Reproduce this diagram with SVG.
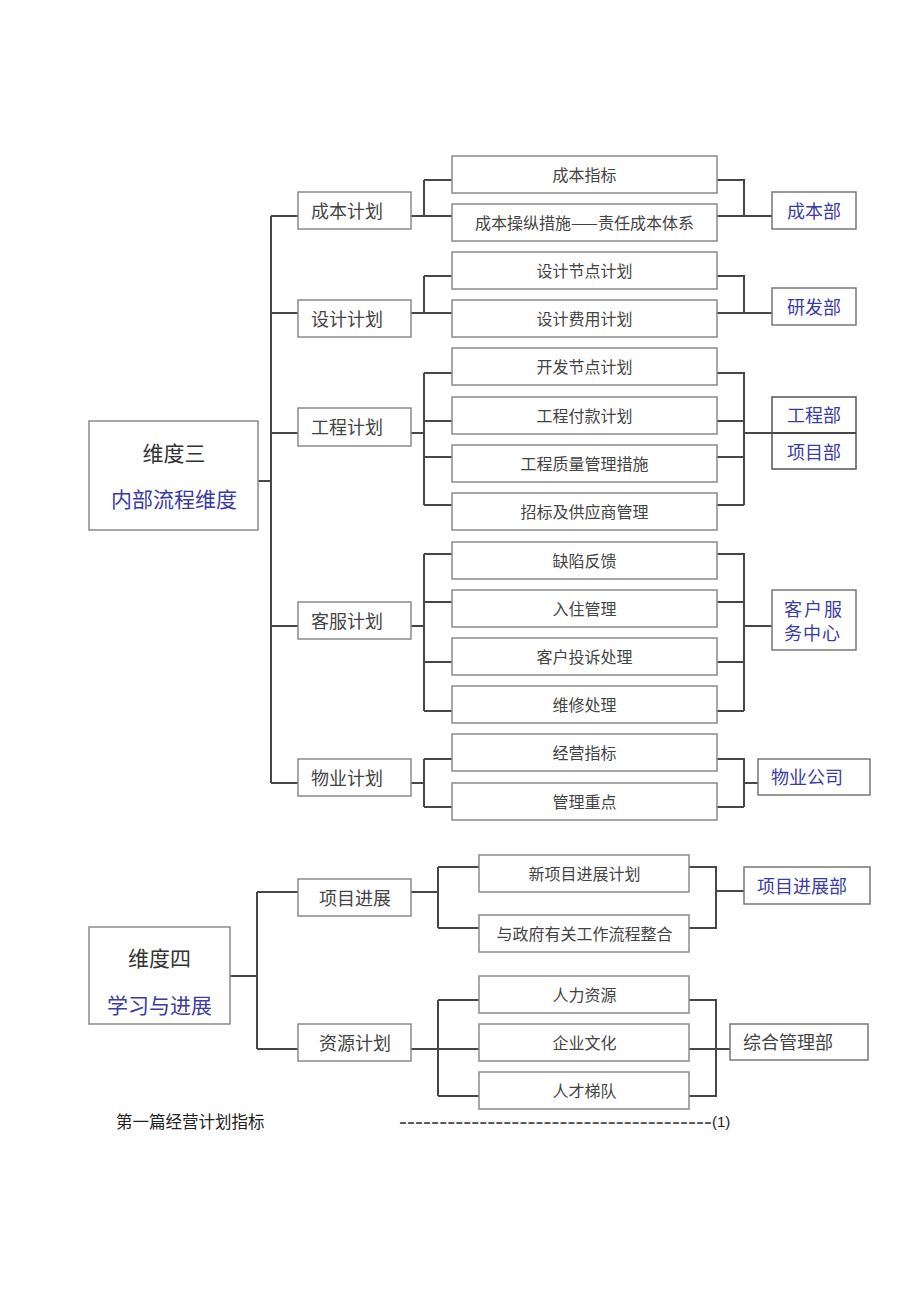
<svg xmlns="http://www.w3.org/2000/svg" width="920" height="1301" viewBox="0 0 920 1301">
<style>
.box{fill:#fff;stroke:#8a8a8a;stroke-width:1.5}
.dbox{fill:#fff;stroke:#777;stroke-width:1.5}
.conn{fill:none;stroke:#474747;stroke-width:2}
text{font-family:"Noto Sans CJK SC","Noto Sans",sans-serif;dominant-baseline:central}
.c{font-size:16px;fill:#444;text-anchor:middle}
.l2{font-size:18px;fill:#444}
.l2c{font-size:18px;fill:#444;text-anchor:middle}
.d{font-size:18px;fill:#3b3ba6}
.dc{font-size:18px;fill:#3b3ba6;text-anchor:middle}
.big{font-size:21px;fill:#333;text-anchor:middle}
.bigb{font-size:21px;fill:#3b3ba6;text-anchor:middle}
.foot{font-size:16.5px;fill:#222}
</style>
<rect width="920" height="1301" fill="#fff"/>
<g id="connectors">
<path class="conn" d="M271,216 V783 M258,481 H271 M271,216 H298 M271,313 H298 M271,433 H298 M271,626 H298 M271,783 H298"/>
<path class="conn" d="M411,216 H452 M424,180 V216 M424,180 H452 M717,180 H744 V216 M717,216 H772"/>
<path class="conn" d="M411,313 H452 M424,276 V313 M424,276 H452 M717,276 H744 V313 M717,313 H772"/>
<path class="conn" d="M411,433 H424 M424,373 V505 M424,373 H452 M424,421 H452 M424,457 H452 M424,505 H452 M717,373 H744 V505 M717,421 H744 M717,457 H744 M717,505 H744 M744,433 H772"/>
<path class="conn" d="M411,626 H424 M424,554 V711 M424,554 H452 M424,602 H452 M424,662 H452 M424,711 H452 M717,554 H744 V711 M717,602 H744 M717,662 H744 M717,711 H744 M744,626 H772"/>
<path class="conn" d="M411,783 H424 M424,759 V807 M424,759 H452 M424,807 H452 M717,759 H744 V807 M717,807 H744 M744,783 H758"/>
<path class="conn" d="M230,976 H257 M257,892 V1049 M257,892 H298 M257,1049 H298"/>
<path class="conn" d="M411,892 H438 M438,867 V928 M438,867 H479 M438,928 H479 M689,867 H716 V928 H689 M716,891 H744"/>
<path class="conn" d="M411,1049 H438 M438,1000 V1096 M438,1000 H479 M438,1049 H479 M438,1096 H479 M689,1000 H716 V1096 H689 M689,1049 H730"/>
</g>
<g id="dim3"><rect class="box" x="89" y="421" width="169" height="109"/><text class="big" x="174" y="452">维度三</text><text class="bigb" x="174" y="498">内部流程维度</text></g>
<g id="n-cost"><rect class="box" x="298" y="192" width="113" height="37"/><text class="l2" x="311" y="210">成本计划</text></g>
<g id="n-design"><rect class="box" x="298" y="300" width="113" height="37"/><text class="l2" x="311" y="318">设计计划</text></g>
<g id="n-eng"><rect class="box" x="298" y="408" width="113" height="38"/><text class="l2" x="311" y="426">工程计划</text></g>
<g id="n-cs"><rect class="box" x="298" y="602" width="113" height="37"/><text class="l2" x="311" y="620">客服计划</text></g>
<g id="n-prop"><rect class="box" x="298" y="759" width="113" height="37"/><text class="l2" x="311" y="777">物业计划</text></g>
<g id="c1"><rect class="box" x="452" y="156" width="265" height="37"/><text class="c" x="584.5" y="173.5">成本指标</text></g>
<g id="c2"><rect class="box" x="452" y="204" width="265" height="37"/><text class="c" x="584.5" y="221.5">成本操纵措施——责任成本体系</text></g>
<g id="c3"><rect class="box" x="452" y="252" width="265" height="37"/><text class="c" x="584.5" y="269.5">设计节点计划</text></g>
<g id="c4"><rect class="box" x="452" y="300" width="265" height="37"/><text class="c" x="584.5" y="317.5">设计费用计划</text></g>
<g id="c5"><rect class="box" x="452" y="348" width="265" height="37"/><text class="c" x="584.5" y="365.5">开发节点计划</text></g>
<g id="c6"><rect class="box" x="452" y="397" width="265" height="37"/><text class="c" x="584.5" y="414.5">工程付款计划</text></g>
<g id="c7"><rect class="box" x="452" y="445" width="265" height="37"/><text class="c" x="584.5" y="462.5">工程质量管理措施</text></g>
<g id="c8"><rect class="box" x="452" y="493" width="265" height="37"/><text class="c" x="584.5" y="510.5">招标及供应商管理</text></g>
<g id="c9"><rect class="box" x="452" y="542" width="265" height="37"/><text class="c" x="584.5" y="559.5">缺陷反馈</text></g>
<g id="c10"><rect class="box" x="452" y="590" width="265" height="37"/><text class="c" x="584.5" y="607.5">入住管理</text></g>
<g id="c11"><rect class="box" x="452" y="638" width="265" height="37"/><text class="c" x="584.5" y="655.5">客户投诉处理</text></g>
<g id="c12"><rect class="box" x="452" y="686" width="265" height="37"/><text class="c" x="584.5" y="703.5">维修处理</text></g>
<g id="c13"><rect class="box" x="452" y="734" width="265" height="37"/><text class="c" x="584.5" y="751.5">经营指标</text></g>
<g id="c14"><rect class="box" x="452" y="783" width="265" height="37"/><text class="c" x="584.5" y="800.5">管理重点</text></g>
<g id="d-cost"><rect class="dbox" x="772" y="192" width="84" height="37"/><text class="dc" x="814" y="209.5">成本部</text></g>
<g id="d-rd"><rect class="dbox" x="772" y="288" width="84" height="37"/><text class="dc" x="814" y="305.5">研发部</text></g>
<g id="d-eng"><rect class="dbox" x="772" y="397" width="84" height="72" style="stroke:#555"/><path d="M772,433 H856" stroke="#474747" stroke-width="2"/><text class="dc" x="814" y="414">工程部</text><text class="dc" x="814" y="450.5">项目部</text></g>
<g id="d-cs"><rect class="dbox" x="772" y="590" width="84" height="60"/><text class="d" x="784" y="608" letter-spacing="2">客户服</text><text class="d" x="784" y="632" letter-spacing="1">务中心</text></g>
<g id="d-prop"><rect class="dbox" x="758" y="759" width="112" height="36"/><text class="d" x="771" y="776">物业公司</text></g>
<g id="dim4"><rect class="box" x="89" y="927" width="141" height="97"/><text class="big" x="159.5" y="957">维度四</text><text class="bigb" x="159.5" y="1004">学习与进展</text></g>
<g id="n-proj"><rect class="box" x="298" y="879" width="113" height="37"/><text class="l2c" x="355" y="896.5">项目进展</text></g>
<g id="n-res"><rect class="box" x="298" y="1024" width="113" height="37"/><text class="l2c" x="355" y="1041.5">资源计划</text></g>
<g id="b1"><rect class="box" x="479" y="855" width="210" height="37"/><text class="c" x="584.5" y="872.5">新项目进展计划</text></g>
<g id="b2"><rect class="box" x="479" y="915" width="210" height="37"/><text class="c" x="584.5" y="932.5">与政府有关工作流程整合</text></g>
<g id="b3"><rect class="box" x="479" y="976" width="210" height="37"/><text class="c" x="584.5" y="993.5">人力资源</text></g>
<g id="b4"><rect class="box" x="479" y="1024" width="210" height="37"/><text class="c" x="584.5" y="1041.5">企业文化</text></g>
<g id="b5"><rect class="box" x="479" y="1072" width="210" height="37"/><text class="c" x="584.5" y="1089.5">人才梯队</text></g>
<g id="d-projdev"><rect class="dbox" x="744" y="867" width="126" height="37"/><text class="d" x="757" y="884.5">项目进展部</text></g>
<g id="d-admin"><rect class="dbox" x="730" y="1024" width="138" height="36"/><text class="l2" x="743" y="1041">综合管理部</text></g>
<g id="footer">
<text class="foot" x="116" y="1121">第一篇经营计划指标</text>
<text x="399" y="1129" style="font-family:'Liberation Sans',sans-serif;font-size:24px;fill:#555;dominant-baseline:auto" textLength="313" lengthAdjust="spacing">---------------------------------------</text>
<text x="712" y="1121" style="font-family:'Liberation Sans',sans-serif;font-size:15px;fill:#222">(1)</text>
</g>
</svg>
